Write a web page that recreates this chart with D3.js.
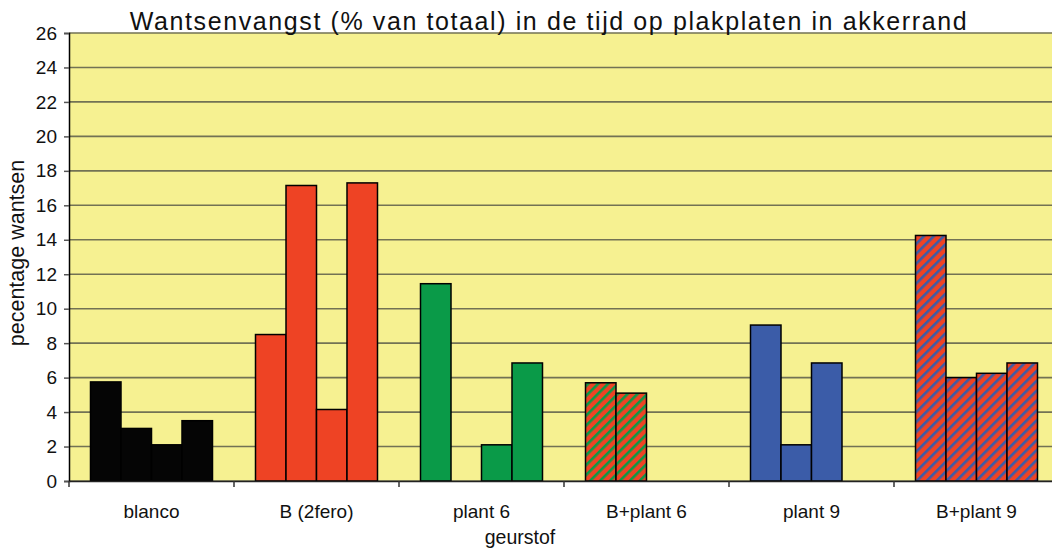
<!DOCTYPE html>
<html>
<head>
<meta charset="utf-8">
<script src="https://cdn.jsdelivr.net/npm/d3@7"></script>
<style>
  body { margin: 0; background: #fff; overflow: hidden; }
  text { font-family: "Liberation Sans", Arial, sans-serif; fill: #111; }
</style>
</head>
<body>
<script>
// categories along the x axis
var categories = ["blanco", "B (2fero)", "plant 6", "B+plant 6", "plant 9", "B+plant 9"]
// four sampling moments per category, null = no bar
var time1 = [5.75, 8.5, 11.45, 5.7, 9.05, 14.25]
var time2 = [3.05, 17.15, null, 5.1, 2.1, 6.0]
var time3 = [2.1, 4.15, 2.1, null, 6.85, 6.25]
var time4 = [3.5, 17.3, 6.85, null, null, 6.85]
var yTicks = [0, 2, 4, 6, 8, 10, 12, 14, 16, 18, 20, 22, 24, 26]

// fill per category
var fills = ["#050505", "#ee4324", "#0a9a48", "url(#hatchGreen)", "#3b5ca8", "url(#hatchBlue)"]

var width = 1052
var height = 548
var margin = { left: 69, top: 33, right: 1059, bottom: 481 }

var svg = d3.select("body")
    .append("svg")
    .attr("width", width)
    .attr("height", height)

// hatch patterns
var defs = svg.append("defs")
function hatch(id, stripe) {
    var p = defs.append("pattern")
        .attr("id", id)
        .attr("patternUnits", "userSpaceOnUse")
        .attr("width", 7)
        .attr("height", 7)
        .attr("patternTransform", "rotate(45)")
    p.append("rect").attr("width", 7).attr("height", 7).attr("fill", "#ee4324")
    p.append("rect").attr("width", 2.6).attr("height", 7).attr("fill", stripe)
}
hatch("hatchGreen", "#0a9a48")
hatch("hatchBlue", "#3b5ca8")

var xScale = d3.scaleBand()
    .domain(categories)
    .range([margin.left, margin.right])

var inner = d3.scaleBand()
    .domain([0, 1, 2, 3])
    .range([0, xScale.bandwidth()])
    .paddingOuter(0.705)

var yScale = d3.scaleLinear()
    .domain([0, 26])
    .range([margin.bottom, margin.top])

// plot background
svg.append("rect")
    .attr("x", margin.left)
    .attr("y", margin.top)
    .attr("width", margin.right - margin.left)
    .attr("height", margin.bottom - margin.top)
    .attr("fill", "#f6f191")

// gridlines
svg.append("g")
    .selectAll("line")
    .data(yTicks)
    .enter()
    .append("line")
    .attr("x1", margin.left)
    .attr("x2", margin.right)
    .attr("y1", d => yScale(d))
    .attr("y2", d => yScale(d))
    .attr("stroke", "#727254")
    .attr("stroke-width", 1.6)

// bars
var rows = []
var series = [time1, time2, time3, time4]
categories.forEach(function (c, i) {
    series.forEach(function (s, j) {
        if (s[i] != null) rows.push({ cat: c, idx: j, value: s[i], fill: fills[i] })
    })
})

svg.append("g")
    .selectAll("rect")
    .data(rows)
    .enter()
    .append("rect")
    .attr("x", d => xScale(d.cat) + inner(d.idx))
    .attr("y", d => yScale(d.value))
    .attr("width", inner.bandwidth())
    .attr("height", d => yScale(0) - yScale(d.value))
    .attr("fill", d => d.fill)
    .attr("stroke", "#000")
    .attr("stroke-width", 1.5)

// y axis
var yAxis = d3.axisLeft(yScale)
    .tickValues(yTicks)
    .tickSize(5)
    .tickPadding(7)
var gy = svg.append("g")
    .attr("transform", "translate(" + margin.left + ",0)")
    .call(yAxis)
gy.select(".domain").attr("stroke", "#000").attr("stroke-width", 1.5)
gy.selectAll(".tick line").attr("stroke", "#555").attr("stroke-width", 1.5)
gy.selectAll("text").style("font-size", "19px").attr("fill", "#111")

// x axis
var xAxis = d3.axisBottom(xScale)
    .tickSize(0)
    .tickPadding(23.5)
var gx = svg.append("g")
    .attr("transform", "translate(0," + margin.bottom + ")")
    .call(xAxis)
gx.select(".domain").attr("stroke", "#222").attr("stroke-width", 1.5)
gx.selectAll("text").style("font-size", "19px").attr("fill", "#111")

// x ticks at band edges
gx.selectAll(".edge")
    .data(categories)
    .enter()
    .append("line")
    .attr("x1", d => xScale(d))
    .attr("x2", d => xScale(d))
    .attr("y1", 0)
    .attr("y2", 6)
    .attr("stroke", "#333")
    .attr("stroke-width", 1.5)

// titles
svg.append("text")
    .attr("x", 549)
    .attr("y", 30)
    .attr("text-anchor", "middle")
    .style("font-size", "25px")
    .style("letter-spacing", "1.6px")
    .text("Wantsenvangst (% van totaal) in de tijd op plakplaten in akkerrand")

svg.append("text")
    .attr("x", 520)
    .attr("y", 544)
    .attr("text-anchor", "middle")
    .style("font-size", "19.5px")
    .text("geurstof")

svg.append("text")
    .attr("transform", "translate(24,253) rotate(-90)")
    .attr("text-anchor", "middle")
    .style("font-size", "21.5px")
    .text("pecentage wantsen")
</script>
</body>
</html>
